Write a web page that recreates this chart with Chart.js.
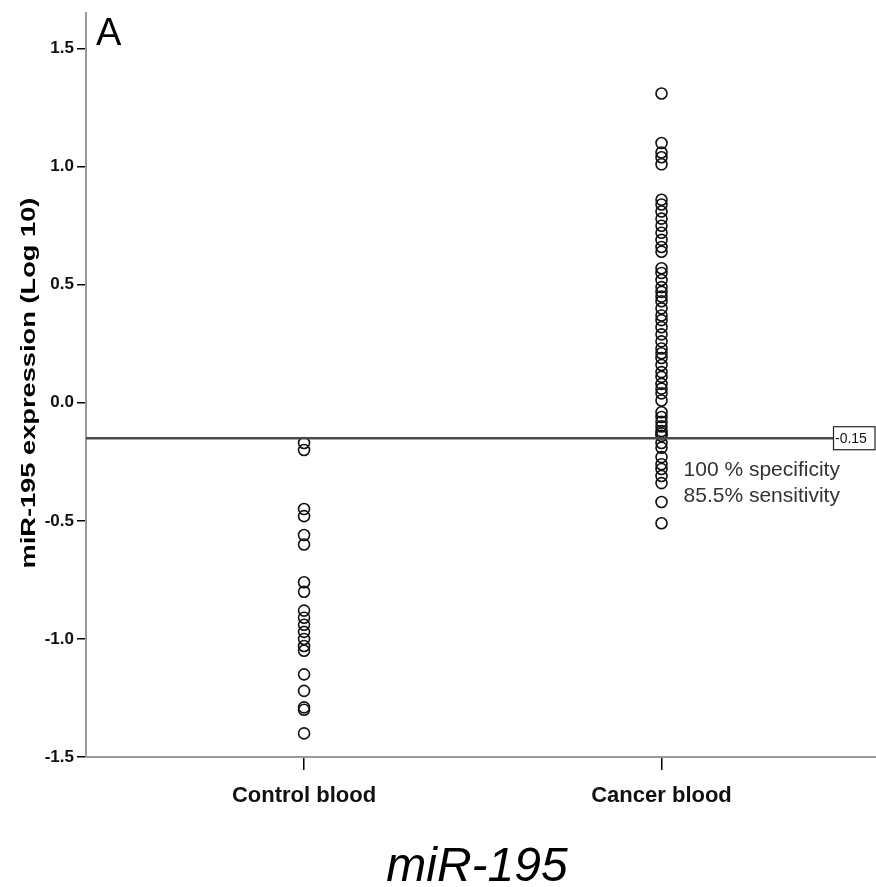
<!DOCTYPE html>
<html>
<head>
<meta charset="utf-8">
<script src="https://cdn.jsdelivr.net/npm/chart.js@4.4.1/dist/chart.umd.min.js"></script>
<style>
  html, body { margin: 0; padding: 0; background: #fff; }
  #wrap { width: 876px; height: 887px; position: relative; }
</style>
</head>
<body>
<div id="wrap"><canvas id="chart"></canvas></div>
<script>
// groups on the x axis
const categories = ['Control blood', 'Cancer blood'];

// miR-195 expression (Log 10)
const controlBlood = [-0.17, -0.20, -0.45, -0.48, -0.56, -0.60, -0.76, -0.80,
  -0.88, -0.91, -0.94, -0.97, -1.00, -1.03, -1.05, -1.15, -1.22, -1.29, -1.30, -1.40];
const cancerBlood = [1.31, 1.10, 1.06, 1.04, 1.01, 0.86, 0.84, 0.81, 0.78, 0.75, 0.72, 0.69, 0.66, 0.64,
  0.57, 0.55, 0.52, 0.49, 0.47, 0.45, 0.43, 0.40, 0.37, 0.35, 0.32, 0.29, 0.26, 0.23, 0.21, 0.19,
  0.16, 0.13, 0.11, 0.08, 0.06, 0.04, 0.01, -0.04, -0.06, -0.08, -0.10, -0.12, -0.13, -0.14,
  -0.17, -0.19, -0.23, -0.26, -0.28, -0.31, -0.34, -0.42, -0.51];

const yTicks = [-1.5, -1.0, -0.5, 0.0, 0.5, 1.0, 1.5];
const cutoff = -0.15;
const cutoffNotes = ['100 % specificity', '85.5% sensitivity'];
const yTitle = 'miR-195 expression (Log 10)';

const FONT = "'Liberation Sans', Arial, sans-serif";

const toPoints = (vals, x) => vals.map(v => ({ x: x, y: v }));

// cutoff line, box label, notes, y title, panel letter and title
const extras = {
  id: 'extras',
  afterDatasetsDraw(chart) {
    const { ctx, chartArea, scales } = chart;
    const y = scales.y.getPixelForValue(cutoff);
    const boxW = 43, boxH = 23;
    const boxX = chart.width - boxW;

    ctx.save();
    ctx.strokeStyle = '#4a4a4a';
    ctx.lineWidth = 2.5;
    ctx.beginPath();
    ctx.moveTo(chartArea.left, y);
    ctx.lineTo(boxX, y);
    ctx.stroke();

    ctx.fillStyle = '#fff';
    ctx.fillRect(boxX, y - boxH / 2, boxW - 1, boxH);
    ctx.strokeStyle = '#222';
    ctx.lineWidth = 1.2;
    ctx.strokeRect(boxX + 0.5, y - boxH / 2, boxW - 1.5, boxH);
    ctx.fillStyle = '#111';
    ctx.font = "14px " + FONT;
    ctx.textAlign = 'left';
    ctx.textBaseline = 'middle';
    ctx.fillText(cutoff.toFixed(2), boxX + 2, y + 1);

    ctx.fillStyle = '#333';
    ctx.font = "21px " + FONT;
    ctx.textBaseline = 'alphabetic';
    const nx = scales.x.getPixelForValue(2) + 22;
    ctx.fillText(cutoffNotes[0], nx, y + 38);
    ctx.fillText(cutoffNotes[1], nx, y + 64);

    ctx.fillStyle = '#000';
    ctx.font = "38px " + FONT;
    ctx.fillText('A', chartArea.left + 10, 45);

    ctx.font = "italic 48px " + FONT;
    ctx.textAlign = 'center';
    ctx.fillText('miR-195', (chartArea.left + chartArea.right) / 2 - 4, 881);

    // rotated y title, stretched along its length like the reference
    ctx.save();
    ctx.translate(29, (chartArea.top + chartArea.bottom) / 2 - 2);
    ctx.rotate(-Math.PI / 2);
    ctx.font = "bold 21px " + FONT;
    const w = ctx.measureText(yTitle).width;
    ctx.scale(371 / w, 1);
    ctx.textAlign = 'center';
    ctx.textBaseline = 'middle';
    ctx.fillStyle = '#000';
    ctx.fillText(yTitle, 0, 0);
    ctx.restore();
    ctx.restore();
  }
};

new Chart(document.getElementById('chart'), {
  type: 'scatter',
  data: {
    datasets: [
      { label: categories[0], data: toPoints(controlBlood, 1) },
      { label: categories[1], data: toPoints(cancerBlood, 2) }
    ].map(d => Object.assign(d, {
      pointRadius: 5.5,
      pointBorderWidth: 1.6,
      borderColor: '#111',
      backgroundColor: 'rgba(0,0,0,0)'
    }))
  },
  options: {
    responsive: true,
    maintainAspectRatio: false,
    animation: false,
    layout: { autoPadding: false, padding: { top: 13, right: 0, left: 0, bottom: 0 } },
    plugins: {
      legend: { display: false },
      tooltip: { enabled: false }
    },
    scales: {
      x: {
        type: 'linear',
        min: 0.39,
        max: 2.6,
        afterBuildTicks: s => { s.ticks = [1, 2].map(v => ({ value: v })); },
        afterFit: s => { s.height = 130; },
        grid: { drawOnChartArea: false, tickLength: 13, tickColor: '#000', lineWidth: 1.5 },
        border: { color: '#9a9a9a', width: 2 },
        ticks: {
          color: '#111',
          padding: 13,
          font: { family: FONT, size: 22, weight: 'bold' },
          callback: v => categories[v - 1]
        }
      },
      y: {
        min: -1.5,
        max: 1.65,
        afterBuildTicks: s => { s.ticks = yTicks.map(v => ({ value: v })); },
        afterFit: s => { s.width = 86; },
        grid: { drawOnChartArea: false, tickLength: 9, tickColor: '#000', lineWidth: 1.5 },
        border: { color: '#9a9a9a', width: 2 },
        ticks: {
          color: '#111',
          padding: 3,
          font: { family: FONT, size: 17, weight: 'bold' },
          callback: v => v.toFixed(1)
        }
      }
    }
  },
  plugins: [extras]
});
</script>
</body>
</html>
